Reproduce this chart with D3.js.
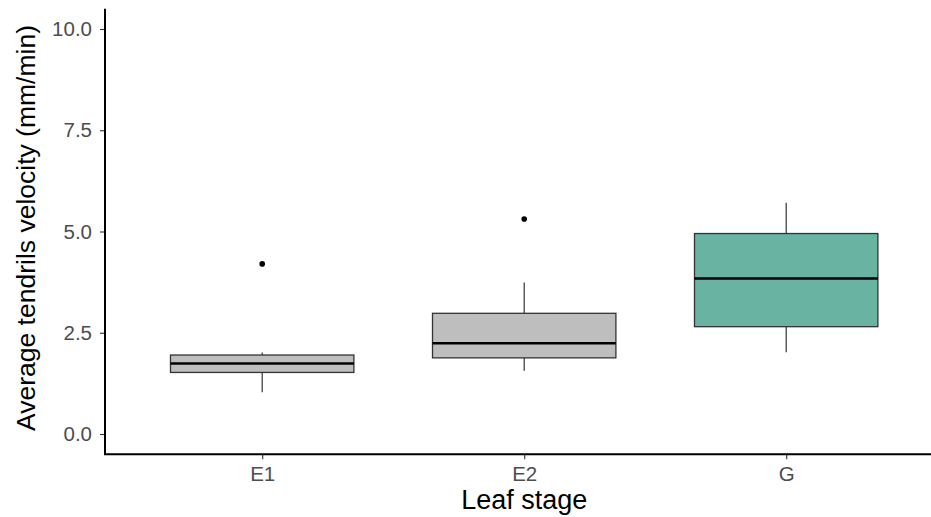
<!DOCTYPE html>
<html>
<head>
<meta charset="utf-8">
<script src="https://cdn.jsdelivr.net/npm/d3@7"></script>
<style>
  body { margin: 0; background: #fff; }
  text { font-family: "Liberation Sans", Arial, sans-serif; }
</style>
</head>
<body>
<svg id="chart" width="931" height="517"></svg>
<script>
// Box summaries
var stages = ["E1", "E2", "G"];
var whiskerLow = [1.03, 1.56, 2.02];
var q1 = [1.52, 1.88, 2.65];
var medians = [1.74, 2.24, 3.84];
var q3 = [1.95, 2.98, 4.95];
var whiskerHigh = [2.01, 3.74, 5.71];
var outliers = [[4.20], [5.31], []];
var fills = ["#bebebe", "#bebebe", "#69b3a2"];
var yTicks = [0, 2.5, 5, 7.5, 10];

var svg = d3.select("#chart");
var panelLeft = 105, panelTop = 8.75, panelBottom = 454.25;
var step = 262;
var boxW = 0.7 * step;

var x = d3.scalePoint()
  .domain(stages)
  .range([panelLeft + 0.6 * step, panelLeft + 2.6 * step]);

var y = d3.scaleLinear()
  .domain([-0.5, 10.5])
  .range([panelBottom, panelTop]);

// y axis
var yAxis = svg.append("g")
  .attr("transform", "translate(" + panelLeft + ",0)")
  .call(d3.axisLeft(y).tickValues(yTicks).tickFormat(d3.format(".1f")).tickSize(5).tickPadding(8));
yAxis.select(".domain").remove();
yAxis.selectAll(".tick line").attr("stroke", "#333").attr("stroke-width", 1.1);
yAxis.selectAll(".tick text").attr("fill", "#4d4d4d").style("font-size", "20.5px");

// x axis
var xAxis = svg.append("g")
  .attr("transform", "translate(0," + panelBottom + ")")
  .call(d3.axisBottom(x).tickSize(5).tickPadding(7));
xAxis.select(".domain").remove();
xAxis.selectAll(".tick line").attr("stroke", "#333").attr("stroke-width", 1.1);
xAxis.selectAll(".tick text").attr("fill", "#4d4d4d").style("font-size", "20.5px");

// axis lines
svg.append("path")
  .attr("d", "M" + panelLeft + "," + panelTop + "V" + panelBottom + "H931")
  .attr("fill", "none")
  .attr("stroke", "#000")
  .attr("stroke-width", 2);

// boxes
var idx = d3.range(stages.length);
var g = svg.append("g");

g.selectAll(".whisker-up")
  .data(idx).enter().append("line")
  .attr("x1", function(i) { return x(stages[i]); })
  .attr("x2", function(i) { return x(stages[i]); })
  .attr("y1", function(i) { return y(q3[i]); })
  .attr("y2", function(i) { return y(whiskerHigh[i]); })
  .attr("stroke", "#333").attr("stroke-width", 1.2);

g.selectAll(".whisker-down")
  .data(idx).enter().append("line")
  .attr("x1", function(i) { return x(stages[i]); })
  .attr("x2", function(i) { return x(stages[i]); })
  .attr("y1", function(i) { return y(q1[i]); })
  .attr("y2", function(i) { return y(whiskerLow[i]); })
  .attr("stroke", "#333").attr("stroke-width", 1.2);

g.selectAll(".box")
  .data(idx).enter().append("rect")
  .attr("x", function(i) { return x(stages[i]) - boxW / 2; })
  .attr("width", boxW)
  .attr("y", function(i) { return y(q3[i]); })
  .attr("height", function(i) { return y(q1[i]) - y(q3[i]); })
  .attr("fill", function(i) { return fills[i]; })
  .attr("stroke", "#333").attr("stroke-width", 1.3);

g.selectAll(".median")
  .data(idx).enter().append("line")
  .attr("x1", function(i) { return x(stages[i]) - boxW / 2; })
  .attr("x2", function(i) { return x(stages[i]) + boxW / 2; })
  .attr("y1", function(i) { return y(medians[i]); })
  .attr("y2", function(i) { return y(medians[i]); })
  .attr("stroke", "#000").attr("stroke-width", 2.5);

idx.forEach(function(i) {
  g.selectAll(".out" + i)
    .data(outliers[i]).enter().append("circle")
    .attr("cx", x(stages[i]))
    .attr("cy", function(d) { return y(d); })
    .attr("r", 2.8)
    .attr("fill", "#000");
});

// titles
svg.append("text")
  .attr("x", x("E2"))
  .attr("y", 509)
  .attr("text-anchor", "middle")
  .style("font-size", "27px")
  .attr("fill", "#000")
  .text("Leaf stage");

svg.append("text")
  .attr("transform", "translate(35,228) rotate(-90)")
  .attr("text-anchor", "middle")
  .style("font-size", "26.5px")
  .attr("fill", "#000")
  .text("Average tendrils velocity (mm/min)");
</script>
</body>
</html>
